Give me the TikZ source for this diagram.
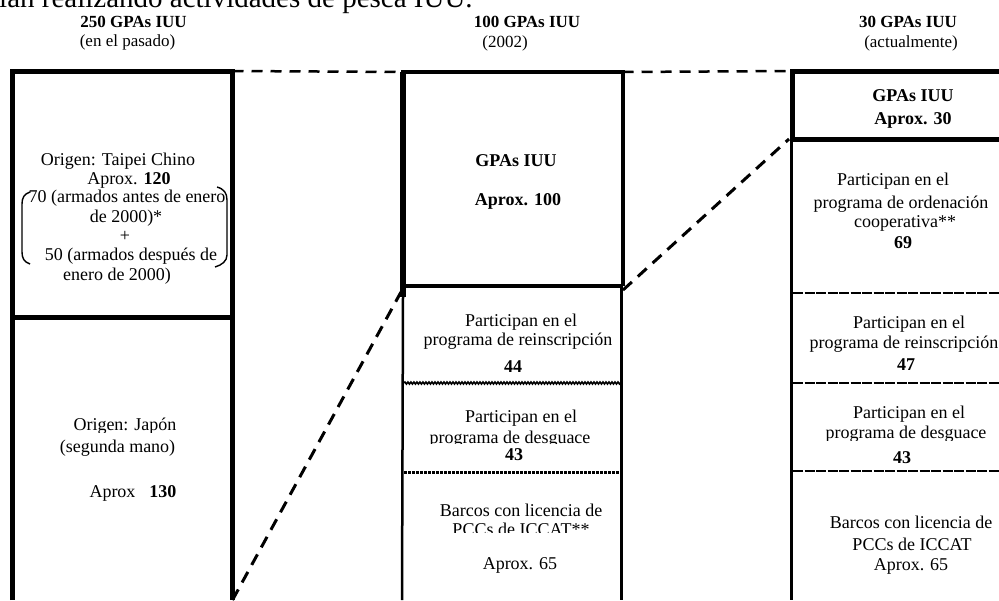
\documentclass[tikz,border=0pt]{standalone}
\usepackage{fontspec}
\setmainfont{Liberation Serif}
\usetikzlibrary{decorations.pathmorphing}
\tikzset{
 thickln/.style={line width=5pt},
 midln/.style={line width=4pt},
 thinln/.style={line width=2.5pt},
 conn/.style={line width=3pt, dash pattern=on 12pt off 8pt},
 topdash/.style={line width=2.5pt, dash pattern=on 11pt off 8pt},
 wavysep/.style={line width=1.6pt, decorate, decoration={snake, amplitude=1pt, segment length=3pt}},
 dotsep/.style={line width=3pt, dash pattern=on 2.5pt off 1.5pt},
 dashsep/.style={line width=2.4pt, dash pattern=on 10pt off 1.5pt},
 paren/.style={line width=1.4pt},
 txt/.style={inner sep=0pt, anchor=base, font=\fontsize{18}{20}\selectfont},
 hdr/.style={inner sep=0pt, anchor=base, font=\fontsize{17}{20}\selectfont},
 toptxt/.style={inner sep=0pt, anchor=base west, font=\fontsize{29}{32}\selectfont},
}
\begin{document}
\begin{tikzpicture}[x=1pt,y=-1pt]
\useasboundingbox (0,0) rectangle (999,600);
% coordinates
\coordinate (Ltl) at (12.5,71);
\coordinate (Ltr) at (232.5,71);
\coordinate (Lbl) at (12.5,600);
\coordinate (Lbr) at (232.5,600);
\coordinate (Lml) at (10,317);
\coordinate (Lmr) at (235,317);
\coordinate (Mtl) at (403,72);
\coordinate (Mtr) at (622.5,72);
\coordinate (Mml) at (403,285.5);
\coordinate (Mmr) at (622.5,285.5);
\coordinate (Mlt) at (403,297);
\coordinate (Mrt) at (621.5,288);
\coordinate (Mbl) at (402,600);
\coordinate (Mbr) at (621.5,600);
\coordinate (Md1) at (401,292);
\coordinate (Md2) at (623,290);
\coordinate (Rtl) at (792,71);
\coordinate (Rtr) at (999,71);
\coordinate (Rml) at (792,139.5);
\coordinate (Rmr) at (999,139.5);
\coordinate (Rd) at (789,139);
\coordinate (Rlt) at (791,139.5);
\coordinate (Rbl) at (791,600);
% left column
\draw[thickln] (Lbl) -- (Ltl) -- (Ltr) -- (Lbr);
\draw[thickln] (Lml) -- (Lmr);
% middle column
\draw[midln] (Mml) -- (Mtl) -- (Mtr) -- (Mmr);
\draw[midln] (Mml) -- (Mmr);
\draw[line width=6pt] (Mtl) -- (Mlt);
\draw[thinln] (Mlt) -- (Mbl);
\draw[thinln] (Mrt) -- (Mbr);
% right column
\draw[thickln] (Rml) -- (Rtl) -- (Rtr);
\draw[thickln] (Rml) -- (Rmr);
\draw[line width=3pt] (Rlt) -- (Rbl);
% connectors
\draw[topdash] (Ltr) -- (Mtl);
\draw[topdash] (Mtr) -- (Rtl);
\draw[conn] (Lbr) -- (Md1);
\draw[conn] (Md2) -- (Rd);
% separators
\draw[wavysep] (404,383) -- (621,383);
\draw[dotsep] (404,472) -- (621,472);
\draw[dashsep] (793,293) -- (999,293);
\draw[dashsep] (793,383) -- (999,383);
\draw[dashsep] (793,471) -- (999,471);
% parentheses
\draw[paren] (30,192) .. controls (24,194) and (22,198) .. (22,204) -- (22,252) .. controls (22,258) and (24,262) .. (30,264);
\draw[paren] (217,187) .. controls (224,189) and (227,193) .. (227,200) -- (227,255) .. controls (227,261) and (222,265) .. (215,267);
% top clipped text
\node[toptxt] (top) at (-1,7) {ían realizando actividades de pesca IUU.};
% headers
\node[hdr] (h1a) at (133.5,27) {\textbf{250 GPAs IUU}};
\node[hdr] (h1b) at (127.5,46) {(en el pasado)};
\node[hdr] (h2a) at (527,27) {\textbf{100 GPAs IUU}};
\node[hdr] (h2b) at (505,47) {(2002)};
\node[hdr] (h3a) at (908,27) {\textbf{30 GPAs IUU}};
\node[hdr] (h3b) at (911,47) {(actualmente)};
% left column text
\node[txt] (l1) at (118,165) {Origen: Taipei Chino};
\node[txt] (l2) at (129,184) {Aprox. \textbf{120}};
\node[txt] (l3) at (127,202) {70 (armados antes de enero};
\node[txt] (l4) at (126,222) {de 2000)*};
\node[txt] (l5) at (125,241) {+};
\node[txt] (l6) at (131,260) {50 (armados después de};
\node[txt] (l7) at (117,280) {enero de 2000)};
\begin{scope}
\clip (20,400) rectangle (225,432);
\node[txt] (l8) at (125,430) {Origen: Japón};
\end{scope}
\node[txt] (l9) at (117.5,452) {(segunda mano)};
\node[txt] (l10) at (133,497) {Aprox\hspace{14pt}\textbf{130}};
% middle column text
\node[txt] (m1) at (516,166) {\textbf{GPAs IUU}};
\node[txt] (m2) at (518,205) {\textbf{Aprox. 100}};
\node[txt] (m3) at (521,326) {Participan en el};
\node[txt] (m4) at (518,345) {programa de reinscripción};
\node[txt] (m5) at (513,372) {\textbf{44}};
\node[txt] (m6) at (521,422) {Participan en el};
\begin{scope}
\clip (405,425) rectangle (619,443.5);
\node[txt] (m7) at (510,443) {\smash{programa de desguace}};
\end{scope}
\node[txt] (m8) at (514,460) {\textbf{43}};
\node[txt] (m9) at (521,516) {Barcos con licencia de};
\begin{scope}
\clip (405,518) rectangle (619,532);
\node[txt] (m10) at (521,535) {PCCs de ICCAT**};
\end{scope}
\node[txt] (m11) at (520,569) {Aprox. 65};
% right column text
\node[txt] (r1) at (913,101) {\textbf{GPAs IUU}};
\node[txt] (r2) at (913,124) {\textbf{Aprox. 30}};
\node[txt] (r3) at (893,185) {Participan en el};
\node[txt] (r4) at (901,208) {programa de ordenación};
\node[txt] (r5) at (905,227) {cooperativa**};
\node[txt] (r6) at (903,248) {\textbf{69}};
\node[txt] (r7) at (909,328) {Participan en el};
\node[txt] (r8) at (904,348) {programa de reinscripción};
\node[txt] (r9) at (906,370) {\textbf{47}};
\node[txt] (r10) at (909,418) {Participan en el};
\begin{scope}
\clip (795,420) rectangle (999,440);
\node[txt] (r11) at (906,438) {programa de desguace};
\end{scope}
\node[txt] (r12) at (902,463) {\textbf{43}};
\node[txt] (r13) at (911,528) {Barcos con licencia de};
\node[txt] (r14) at (912,550) {PCCs de ICCAT};
\node[txt] (r15) at (911,570) {Aprox. 65};
\end{tikzpicture}
\end{document}
